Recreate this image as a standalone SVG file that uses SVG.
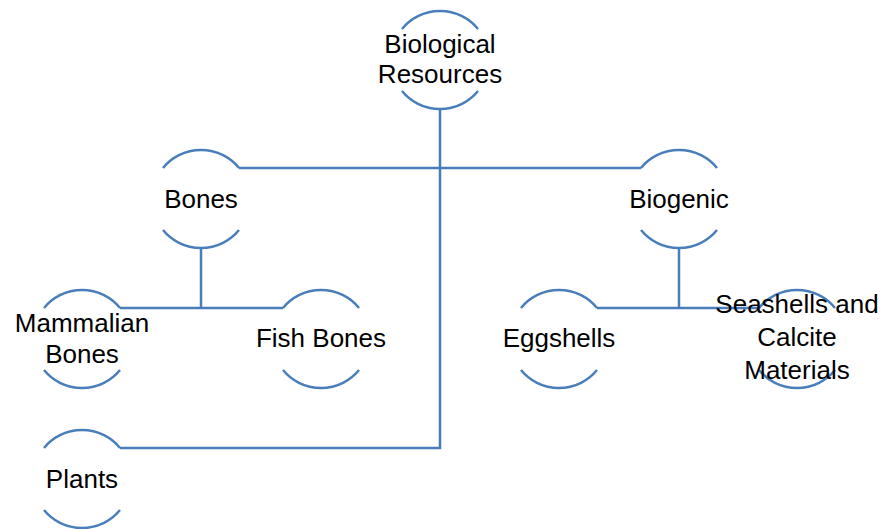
<svg xmlns="http://www.w3.org/2000/svg" width="881" height="529" viewBox="0 0 881 529">
<style>
.arc{fill:none;stroke:#4A7EBB;stroke-width:2.5}
.conn{fill:none;stroke:#4A7EBB;stroke-width:2.5}
text{font-family:"Liberation Sans",Arial,sans-serif;font-size:26px;fill:#000;text-anchor:middle}
</style>
<rect width="881" height="529" fill="#fff"/>
<g id="connectors">
<path class="conn" d="M440,109 V448 H120"/>
<path class="conn" d="M239,168 H641"/>
<path class="conn" d="M201,248 V308 M120,308 H283"/>
<path class="conn" d="M679,248 V308 M597,308 H759"/>
</g>
<g id="biological-resources">
<path class="arc" d="M402,29 A49,49 0 0 1 478,29 M402,91 A49,49 0 0 0 478,91"/>
<text x="440" y="53">Biological</text>
<text x="440" y="83">Resources</text>
</g>
<g id="bones">
<path class="arc" d="M163,168 A49,49 0 0 1 239,168 M163,230 A49,49 0 0 0 239,230"/>
<text x="201" y="208">Bones</text>
</g>
<g id="biogenic">
<path class="arc" d="M641,168 A49,49 0 0 1 717,168 M641,230 A49,49 0 0 0 717,230"/>
<text x="679" y="208">Biogenic</text>
</g>
<g id="mammalian-bones">
<path class="arc" d="M44,308 A49,49 0 0 1 120,308 M44,370 A49,49 0 0 0 120,370"/>
<text x="82" y="332">Mammalian</text>
<text x="82" y="363">Bones</text>
</g>
<g id="fish-bones">
<path class="arc" d="M283,308 A49,49 0 0 1 359,308 M283,370 A49,49 0 0 0 359,370"/>
<text x="321" y="347">Fish Bones</text>
</g>
<g id="eggshells">
<path class="arc" d="M521,308 A49,49 0 0 1 597,308 M521,370 A49,49 0 0 0 597,370"/>
<text x="559" y="347">Eggshells</text>
</g>
<g id="seashells">
<path class="arc" d="M759,308 A49,49 0 0 1 835,308 M759,370 A49,49 0 0 0 835,370"/>
<text x="797" y="313">Seashells and</text>
<text x="797" y="346">Calcite</text>
<text x="797" y="379">Materials</text>
</g>
<g id="plants">
<path class="arc" d="M44,448 A49,49 0 0 1 120,448 M44,510 A49,49 0 0 0 120,510"/>
<text x="82" y="488">Plants</text>
</g>
</svg>
